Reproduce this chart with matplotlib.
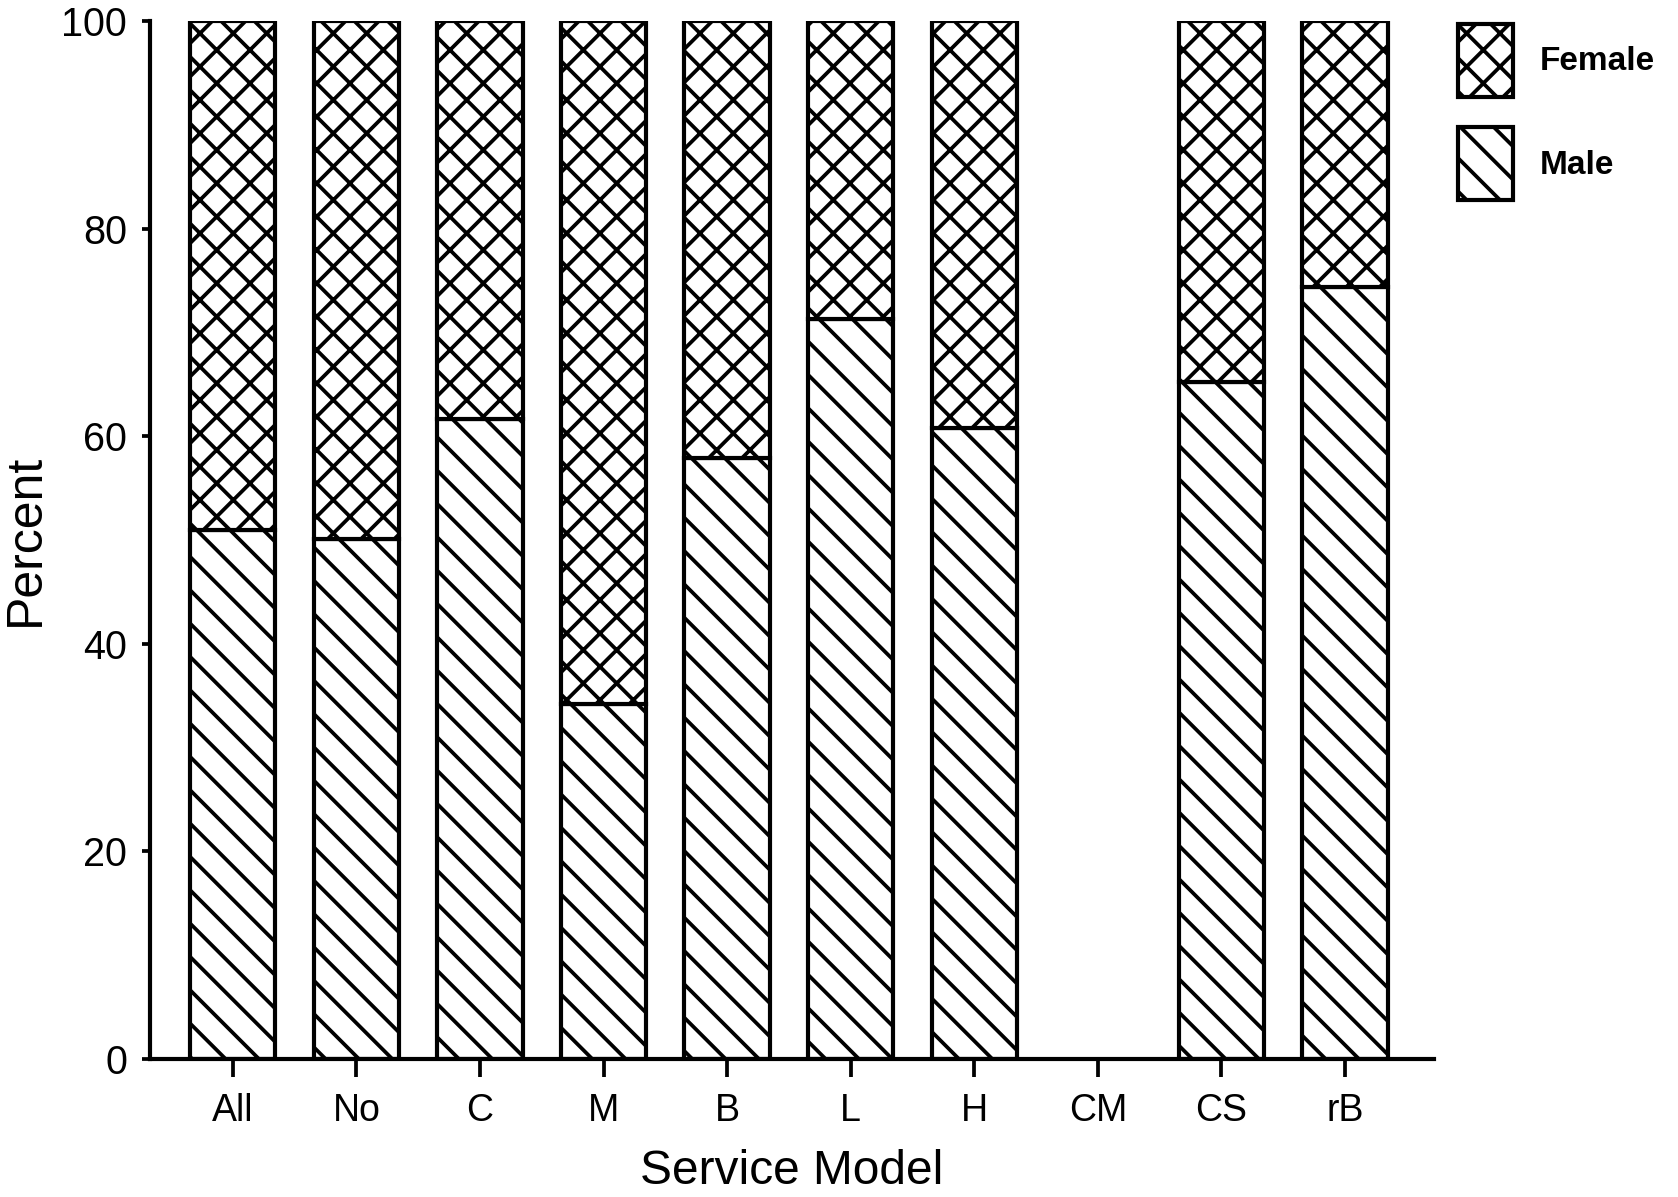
import matplotlib
matplotlib.use("Agg")
import matplotlib.pyplot as plt
from matplotlib.patches import Patch
import numpy as np

categories = ["All", "No", "C", "M", "B", "L", "H", "CM", "CS", "rB"]
male = [51.0, 50.1, 61.7, 34.2, 57.9, 71.3, 60.8, 0.0, 65.2, 74.4]
female = [49.0, 49.9, 38.3, 65.8, 42.1, 28.7, 39.2, 0.0, 34.8, 25.6]
yticks = [0, 20, 40, 60, 80, 100]

DPI = 200
S = 150 / DPI  # sizes below are tuned in points at 150 dpi
plt.rcParams['hatch.linewidth'] = 1.8 * S
plt.rcParams['font.family'] = ['Liberation Sans', 'DejaVu Sans']
fig = plt.figure(figsize=(1678 / DPI, 1197 / DPI), dpi=DPI)
ax = fig.add_axes([150 / 1678, 1 - 1059 / 1197, (1434 - 150) / 1678, (1059 - 21) / 1197])

x = np.arange(len(categories))
w = 0.69
for i in range(len(categories)):
    if male[i] + female[i] <= 0:
        continue
    ax.bar(x[i], male[i], width=w, facecolor='white', edgecolor='black',
           hatch='\\\\', linewidth=2.0 * S)
    ax.bar(x[i], female[i], bottom=male[i], width=w, facecolor='white',
           edgecolor='black', hatch='xx', linewidth=2.0 * S)

ax.set_xlim(-0.67, 9.72)
ax.set_ylim(0, 100)
ax.spines['top'].set_visible(False)
ax.spines['right'].set_visible(False)
ax.spines['left'].set_linewidth(2.0 * S)
ax.spines['bottom'].set_linewidth(2.0 * S)
ax.set_xticks(x)
ax.set_xticklabels(categories, fontsize=18 * S)
ax.set_yticks(yticks)
ax.set_yticklabels([str(v) for v in yticks], fontsize=19 * S)
ax.tick_params(axis='x', length=8.5 * S, width=1.8 * S, pad=8 * S)
ax.tick_params(axis='y', length=4 * S, width=1.8 * S, pad=7 * S)
ax.set_xlabel("Service Model", fontsize=23 * S)
ax.set_ylabel("Percent", fontsize=24 * S)
ax.xaxis.set_label_coords(0.5, -0.087)
ax.yaxis.set_label_coords(-0.079, 0.5)

handles = [Patch(facecolor='white', edgecolor='black', hatch='xx', linewidth=2.0 * S, label='Female'),
           Patch(facecolor='white', edgecolor='black', hatch='\\\\', linewidth=2.0 * S, label='Male')]
fig.legend(handles=handles, loc='upper left', bbox_to_anchor=(1458 / 1678, 1 - 24 / 1197),
           frameon=False, borderpad=0, borderaxespad=0, handlelength=1.65,
           handleheight=3.0, labelspacing=0.9, handletextpad=0.8,
           prop={'size': 16 * S, 'weight': 'bold'})

fig.savefig("out.png", dpi=DPI)
